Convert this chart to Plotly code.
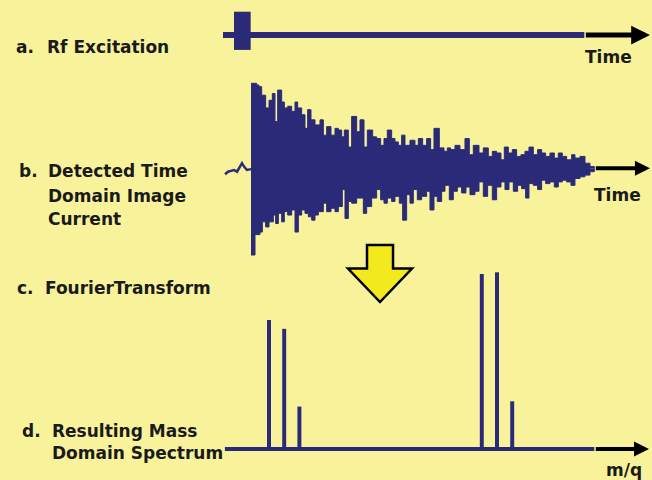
import plotly.graph_objects as go

W, H = 652, 480
BG = "#F8F39B"
NAVY = "#2B2A78"
INK = "#1A1A1A"
ARROW_YELLOW = "#F2EA1C"

# --- a. Rf excitation (time in arbitrary units, relative amplitude) ---
pulse_t = [-5.1, -0.1]
pulse_amp = [-0.64, 1.0]
sweep_t = [-8.4, 100.0]

# --- b. detected transient ---
# small noise before the excitation
noise_t = [-7.8, -6.9, -6.0, -5.1, -4.2, -3.3, -2.7, -2.1, -1.2, 0.0]
noise_amp = [-0.07, -0.04, -0.03, -0.02, -0.04, 0.02, 0.06, 0.02, -0.02, -0.01]

# upper envelope of the decaying image current
top_t = [0.0, 1.7, 2.4, 3.2, 4.4, 5.4, 6.4, 7.2, 8.0, 9.2, 10.0, 11.0, 12.2, 13.2,
         14.0, 15.2, 16.2, 17.0, 18.0, 19.2, 20.7, 21.7, 22.7, 24.0, 25.2, 26.2,
         27.2, 28.0, 29.2, 30.2, 31.7, 32.7, 33.9, 34.9, 36.5, 37.7, 38.9, 39.9,
         40.9, 42.2, 43.2, 44.2, 45.2, 46.2, 47.7, 49.2, 50.2, 51.5, 52.7, 53.9,
         54.9, 56.5, 57.9, 58.9, 59.9, 61.2, 62.7, 64.2, 65.5, 66.7, 67.2, 68.4,
         69.7, 71.2, 72.4, 73.7, 75.0, 76.0, 77.2, 78.4, 79.7, 81.0, 82.2, 83.4,
         84.7, 86.0, 87.2, 88.4, 89.7, 91.0, 92.2, 93.4, 94.7, 96.2, 97.2, 98.7,
         100.2, 101.7, 103.0]
top_amp = [1.00, 0.98, 0.96, 0.86, 0.71, 0.80, 0.88, 0.55, 0.92, 0.78, 0.71, 0.73,
           0.67, 0.78, 0.71, 0.63, 0.47, 0.69, 0.57, 0.51, 0.57, 0.39, 0.49, 0.39,
           0.47, 0.45, 0.37, 0.45, 0.25, 0.61, 0.43, 0.57, 0.25, 0.45, 0.37, 0.35,
           0.27, 0.35, 0.45, 0.35, 0.31, 0.27, 0.39, 0.27, 0.33, 0.27, 0.35, 0.27,
           0.35, 0.22, 0.47, 0.24, 0.20, 0.24, 0.22, 0.27, 0.22, 0.35, 0.16, 0.27,
           0.27, 0.18, 0.24, 0.14, 0.20, 0.18, 0.10, 0.25, 0.18, 0.22, 0.14, 0.16,
           0.20, 0.25, 0.16, 0.22, 0.18, 0.14, 0.18, 0.12, 0.18, 0.14, 0.10, 0.16,
           0.12, 0.14, 0.06, 0.02, 0.0]

# lower envelope
bot_t = [0.0, 1.2, 2.7, 3.4, 4.4, 5.4, 6.7, 7.4, 8.2, 9.2, 10.0, 11.0, 12.2, 13.2,
         14.2, 15.2, 16.2, 17.2, 18.2, 19.2, 20.2, 21.7, 22.7, 24.0, 25.2, 26.2,
         27.4, 28.2, 29.2, 30.2, 31.7, 32.7, 33.7, 34.7, 36.2, 37.7, 38.9, 39.9,
         40.9, 42.2, 43.2, 44.5, 45.5, 46.7, 47.7, 48.7, 49.9, 51.2, 52.7, 53.7,
         54.9, 55.9, 57.2, 58.2, 59.5, 60.7, 61.9, 63.2, 64.5, 65.7, 67.2, 68.4,
         69.7, 71.0, 72.4, 73.7, 75.0, 76.2, 77.4, 78.7, 80.0, 81.2, 82.4, 83.4,
         84.7, 86.0, 87.2, 88.4, 89.7, 91.0, 92.2, 93.4, 94.7, 96.0, 97.2, 98.7,
         100.2, 101.7, 103.0]
bot_amp = [-1.02, -0.78, -0.75, -0.63, -0.69, -0.63, -0.55, -0.65, -0.53, -0.63,
           -0.51, -0.55, -0.49, -0.75, -0.55, -0.49, -0.53, -0.57, -0.61, -0.55,
           -0.51, -0.41, -0.51, -0.47, -0.51, -0.45, -0.25, -0.59, -0.39, -0.41,
           -0.35, -0.35, -0.53, -0.45, -0.35, -0.25, -0.37, -0.41, -0.35, -0.39,
           -0.33, -0.41, -0.61, -0.31, -0.41, -0.25, -0.37, -0.33, -0.27, -0.49,
           -0.33, -0.39, -0.27, -0.20, -0.37, -0.27, -0.22, -0.29, -0.22, -0.31,
           -0.27, -0.16, -0.33, -0.20, -0.37, -0.22, -0.16, -0.25, -0.16, -0.27,
           -0.20, -0.24, -0.35, -0.18, -0.20, -0.25, -0.14, -0.18, -0.16, -0.22,
           -0.16, -0.14, -0.16, -0.20, -0.12, -0.10, -0.08, -0.04, 0.0]

# --- d. mass spectrum ---
mz = [1000, 1001, 1002, 1014, 1015, 1016]
intensity = [73, 68, 24, 99, 100, 27]
mz_span = [997.1, 1021.4]


def axis_range(value, pixel, px_per_unit, total, down=False):
    # range for an axis that spans the whole figure, with `value` at `pixel`
    if down:
        return [value - (total - pixel) / px_per_unit, value + pixel / px_per_unit]
    return [value - pixel / px_per_unit, value + (total - pixel) / px_per_unit]


def px(x):
    return x / W


def py(y):
    return 1 - y / H


fig = go.Figure()

# a. pulse + sweep line
fig.add_trace(go.Scatter(x=sweep_t, y=[0, 0], mode="lines",
                         line=dict(color=NAVY, width=6), xaxis="x", yaxis="y"))
fig.add_trace(go.Bar(x=[(pulse_t[0] + pulse_t[1]) / 2], y=[pulse_amp[1] - pulse_amp[0]],
                     base=[pulse_amp[0]], width=[pulse_t[1] - pulse_t[0]],
                     marker=dict(color=NAVY, line=dict(width=0)), xaxis="x", yaxis="y"))

# b. transient
fig.add_trace(go.Scatter(x=noise_t, y=noise_amp, mode="lines",
                         line=dict(color=NAVY, width=2.5), xaxis="x", yaxis="y2"))
for tt, aa in ((top_t, top_amp), (bot_t, bot_amp)):
    fig.add_trace(go.Scatter(x=tt, y=aa, mode="lines", line_shape="hv",
                             line=dict(color=NAVY, width=1), fill="tozeroy",
                             fillcolor=NAVY, xaxis="x", yaxis="y2"))
# close the seam between the two halves
fig.add_trace(go.Scatter(x=[top_t[0], top_t[-2]], y=[0, 0], mode="lines",
                         line=dict(color=NAVY, width=4), xaxis="x", yaxis="y2"))

# d. spectrum
fig.add_trace(go.Scatter(x=mz_span, y=[0, 0], mode="lines",
                         line=dict(color=NAVY, width=4), xaxis="x2", yaxis="y3"))
fig.add_trace(go.Bar(x=mz, y=intensity, width=0.26,
                     marker=dict(color=NAVY, line=dict(width=0)), xaxis="x2", yaxis="y3"))

hidden = dict(visible=False, fixedrange=True)
fig.update_layout(
    width=W, height=H,
    margin=dict(l=0, r=0, t=0, b=0),
    paper_bgcolor=BG, plot_bgcolor=BG,
    showlegend=False,
    xaxis=dict(range=axis_range(0, 251, 3.333, W), domain=[0, 1], **hidden),
    xaxis2=dict(range=axis_range(1000, 269, 15.2, W), overlaying="x", **hidden),
    yaxis=dict(range=axis_range(0, 35, 23.3, H, down=True), domain=[0, 1], **hidden),
    yaxis2=dict(range=axis_range(0, 168.3, 85, H, down=True), overlaying="y", **hidden),
    yaxis3=dict(range=axis_range(0, 449, 1.767, H, down=True), overlaying="y",
                anchor="x2", **hidden),
)

# black axis arrows
for x0, x1, xr, yr, w in ((sweep_t[1], 119.7, "x", "y", 5),
                          (top_t[-1], 119.7, "x", "y2", 4),
                          (mz_span[1], 1025.0, "x2", "y3", 4)):
    fig.add_annotation(x=x1, y=0, ax=x0, ay=0, xref=xr, yref=yr, axref=xr, ayref=yr,
                       text="", showarrow=True, arrowhead=2, arrowsize=0.75,
                       arrowwidth=w, arrowcolor="black", standoff=0)

# labels
font = dict(family="DejaVu Sans", size=17, color=INK)
labels = [
    ("a.", 14, 47), ("Rf Excitation", 45, 47),
    ("b.", 17, 171), ("Detected Time", 46, 171), ("Domain Image", 46, 196),
    ("Current", 46, 219),
    ("c.", 15, 288), ("FourierTransform", 43, 288),
    ("d.", 20, 431), ("Resulting Mass", 50, 431), ("Domain Spectrum", 50, 453),
    ("Time", 583, 57), ("Time", 592, 195), ("m/q", 604, 470),
]
for txt, x, y in labels:
    fig.add_annotation(x=px(x), y=py(y), xref="paper", yref="paper", text=f"<b>{txt}</b>",
                       showarrow=False, xanchor="left", yanchor="middle", font=font)

# yellow "Fourier transform" arrow
pts = [(367, 245), (393, 245), (393, 268.5), (412, 268.5), (380, 302), (348, 268.5), (367, 268.5)]
path = "M " + " L ".join(f"{px(x):.4f},{py(y):.4f}" for x, y in pts) + " Z"
fig.add_shape(type="path", path=path, xref="paper", yref="paper",
              fillcolor=ARROW_YELLOW, line=dict(color="black", width=2.5))

# the page's default body margin would shift the figure off the window edges
fig.write_html("out.html", config={"displayModeBar": False},
               post_script="document.body.style.margin = '0';")
